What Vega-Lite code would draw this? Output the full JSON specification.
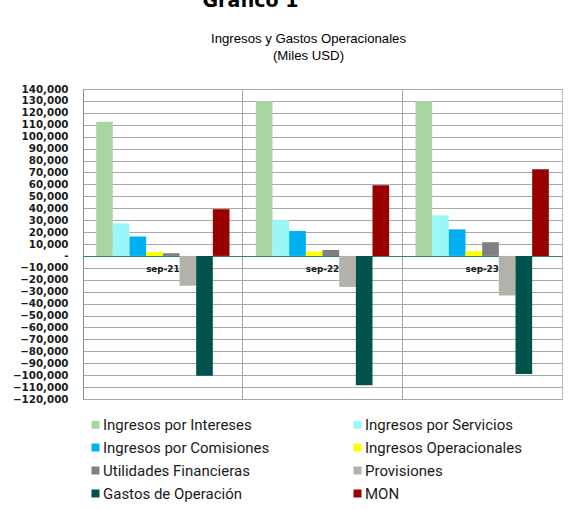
{
  "$schema": "https://vega.github.io/schema/vega-lite/v6.json",
  "width": 479,
  "height": 310,
  "autosize": {"type": "none"},
  "padding": {"left": 83, "top": 89, "right": 20, "bottom": 110},
  "background": "white",
  "title": {
    "text": "Gráfico 1",
    "font": "DejaVu Sans",
    "fontSize": 19,
    "fontWeight": "bold",
    "color": "#000000",
    "anchor": "middle",
    "baseline": "alphabetic",
    "dx": -72,
    "offset": 6
  },
  "config": {
    "view": {"stroke": "#b8b8b8", "strokeWidth": 1}
  },
  "data": {
    "values": [
      {"periodo": "sep-21", "serie": "Ingresos por Intereses", "valor": 112500},
      {"periodo": "sep-21", "serie": "Ingresos por Servicios", "valor": 27300},
      {"periodo": "sep-21", "serie": "Ingresos por Comisiones", "valor": 16300},
      {"periodo": "sep-21", "serie": "Ingresos Operacionales", "valor": 3400},
      {"periodo": "sep-21", "serie": "Utilidades Financieras", "valor": 2300},
      {"periodo": "sep-21", "serie": "Provisiones", "valor": -25000},
      {"periodo": "sep-21", "serie": "Gastos de Operación", "valor": -100500},
      {"periodo": "sep-21", "serie": "MON", "valor": 39200},
      {"periodo": "sep-22", "serie": "Ingresos por Intereses", "valor": 130000},
      {"periodo": "sep-22", "serie": "Ingresos por Servicios", "valor": 30000},
      {"periodo": "sep-22", "serie": "Ingresos por Comisiones", "valor": 21000},
      {"periodo": "sep-22", "serie": "Ingresos Operacionales", "valor": 3700},
      {"periodo": "sep-22", "serie": "Utilidades Financieras", "valor": 5000},
      {"periodo": "sep-22", "serie": "Provisiones", "valor": -26000},
      {"periodo": "sep-22", "serie": "Gastos de Operación", "valor": -108500},
      {"periodo": "sep-22", "serie": "MON", "valor": 59200},
      {"periodo": "sep-23", "serie": "Ingresos por Intereses", "valor": 130000},
      {"periodo": "sep-23", "serie": "Ingresos por Servicios", "valor": 34000},
      {"periodo": "sep-23", "serie": "Ingresos por Comisiones", "valor": 22300},
      {"periodo": "sep-23", "serie": "Ingresos Operacionales", "valor": 4000},
      {"periodo": "sep-23", "serie": "Utilidades Financieras", "valor": 11500},
      {"periodo": "sep-23", "serie": "Provisiones", "valor": -33200},
      {"periodo": "sep-23", "serie": "Gastos de Operación", "valor": -99000},
      {"periodo": "sep-23", "serie": "MON", "valor": 72600}
    ]
  },
  "mark": {"type": "bar"},
  "encoding": {
    "x": {
      "field": "periodo",
      "type": "nominal",
      "sort": ["sep-21", "sep-22", "sep-23"],
      "scale": {"paddingInner": 0, "paddingOuter": 0},
      "axis": {
        "title": null,
        "orient": "bottom",
        "offset": -143,
        "domain": true,
        "domainColor": "#3c7a74",
        "domainWidth": 1,
        "ticks": false,
        "labelAngle": 0,
        "labelFont": "DejaVu Sans",
        "labelFontWeight": "bold",
        "labelFontSize": 8.8,
        "labelColor": "#1a1a1a",
        "labelPadding": 8,
        "grid": true,
        "bandPosition": 0,
        "gridColor": "#a8a8a8",
        "gridWidth": 1
      }
    },
    "xOffset": {
      "field": "serie",
      "sort": ["Ingresos por Intereses", "Ingresos por Servicios", "Ingresos por Comisiones", "Ingresos Operacionales", "Utilidades Financieras", "Provisiones", "Gastos de Operación", "MON"],
      "scale": {"paddingInner": 0, "paddingOuter": 0.79}
    },
    "y": {
      "field": "valor",
      "type": "quantitative",
      "scale": {"domain": [-120000, 140000], "nice": false, "zero": true},
      "axis": {
        "title": ["Ingresos y Gastos Operacionales", "(Miles USD)"],
        "titleAngle": 0,
        "titleAlign": "center",
        "titleBaseline": "alphabetic",
        "titleX": 225,
        "titleY": -46.3,
        "titleFont": "Liberation Sans",
        "titleFontSize": 13.2,
        "titleFontWeight": "normal",
        "titleColor": "#000000",
        "titleLineHeight": 16.5,
        "values": [-120000, -110000, -100000, -90000, -80000, -70000, -60000, -50000, -40000, -30000, -20000, -10000, 0, 10000, 20000, 30000, 40000, 50000, 60000, 70000, 80000, 90000, 100000, 110000, 120000, 130000, 140000],
        "labelExpr": "datum.value == 0 ? '-\u00a0\u00a0' : format(datum.value, ',')",
        "labelFont": "DejaVu Sans",
        "labelFontWeight": "bold",
        "labelFontSize": 10.3,
        "labelColor": "#1a1a1a",
        "labelPadding": 15,
        "ticks": false,
        "domain": true,
        "domainColor": "#8a8a8a",
        "grid": true,
        "gridColor": "#a8a8a8",
        "gridWidth": 1
      }
    },
    "color": {
      "field": "serie",
      "type": "nominal",
      "scale": {
        "domain": ["Ingresos por Intereses", "Ingresos por Servicios", "Ingresos por Comisiones", "Ingresos Operacionales", "Utilidades Financieras", "Provisiones", "Gastos de Operación", "MON"],
        "range": ["#a8d5a2", "#99f7f7", "#00b0f0", "#ffff00", "#808080", "#b2b2aa", "#00534d", "#990000"]
      },
      "legend": {
        "title": null,
        "orient": "none",
        "direction": "horizontal",
        "legendX": 5,
        "legendY": 328,
        "columns": 2,
        "columnPadding": 80,
        "rowPadding": 7,
        "symbolType": "square",
        "symbolSize": 64,
        "symbolStrokeWidth": 0,
        "labelFont": "Roboto",
        "labelFontSize": 15,
        "labelColor": "#1a1a1a",
        "labelOffset": 0,
        "labelLimit": 300
      }
    }
  }
}
